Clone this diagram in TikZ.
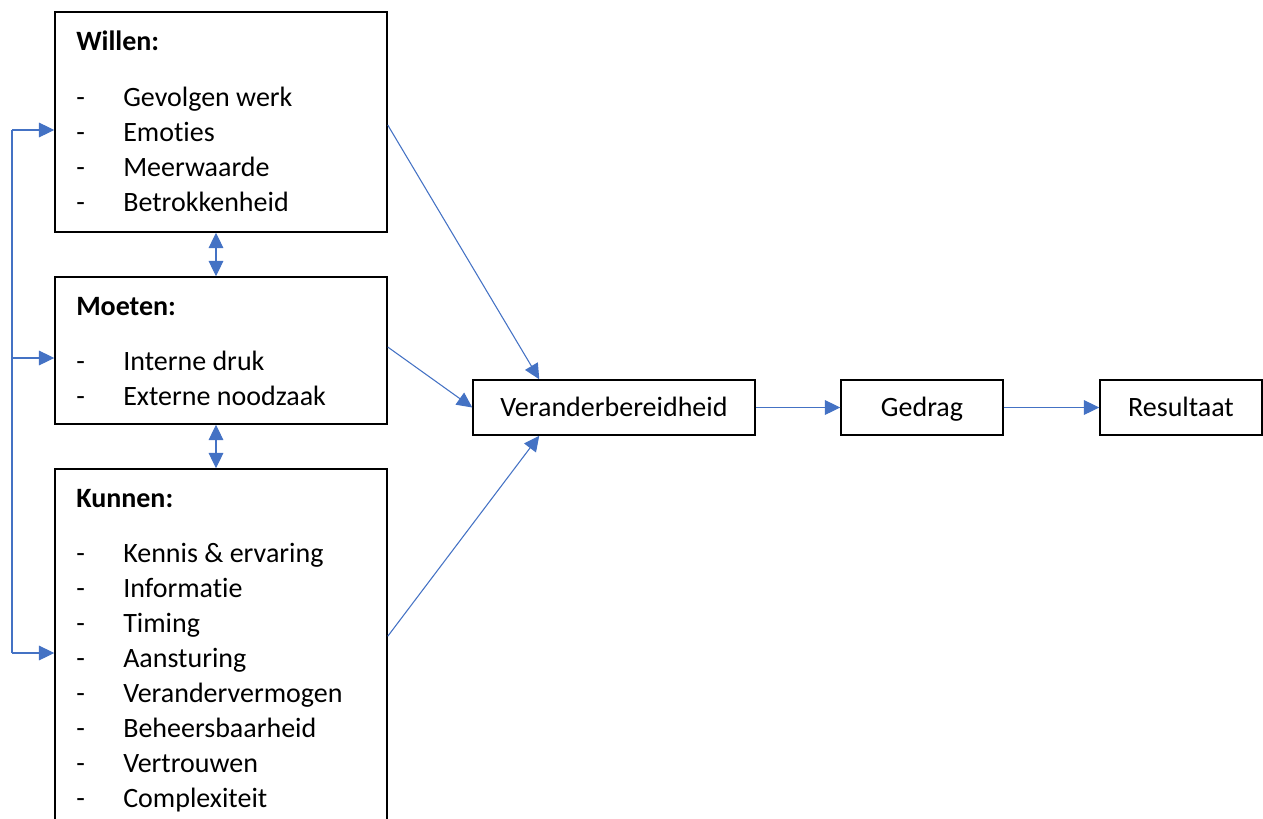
\documentclass[tikz,border=0pt]{standalone}
\usepackage{fontspec}
\setmainfont{Carlito}[Ligatures=NoCommon]
\usetikzlibrary{arrows.meta,calc}
\definecolor{linkblue}{RGB}{68,114,196}
\tikzset{
  box/.style={draw, line width=1.1pt, inner sep=0pt, fill=white, text height=17pt, text depth=2.8pt},
  flow/.style={draw=linkblue, line width=0.8pt, -{Triangle[length=11.5pt,width=11pt]}, color=linkblue},
  bothways/.style={draw=linkblue, line width=0.8pt, {Triangle[length=11.5pt,width=11pt]}-{Triangle[length=11.5pt,width=11pt]}, color=linkblue},
  item/.style={anchor=base west, inner sep=0pt},
  head/.style={item, font=\fontsize{21}{26}\selectfont\bfseries},
}
\begin{document}
\begin{tikzpicture}[x=0.75pt,y=0.75pt,yscale=-1,xscale=1, font=\fontsize{21}{26}\selectfont]
  \useasboundingbox (0,0) rectangle (1263,818);
  \clip (0,0) rectangle (1263,818);

  % boxes
  \node[box, minimum width=249pt, minimum height=165pt] (willen) at (221,122) {};
  \node[box, minimum width=249pt, minimum height=110.25pt] (moeten) at (221,350.5) {};
  \node[box, minimum width=249pt, minimum height=278.25pt] (kunnen) at (221,654.5) {};
  \node[box, minimum width=211.5pt, minimum height=41.25pt] (verander) at (614,407.5) {Veranderbereidheid};
  \node[box, minimum width=121.5pt, minimum height=41.25pt] (gedrag) at (922,407.5) {Gedrag};
  \node[box, minimum width=121.5pt, minimum height=41.25pt] (resultaat) at (1181,407.5) {Resultaat};

  % lists
  \node[head] (willenT) at (76,50) {Willen:};
  \foreach \t [count=\i] in {Gevolgen werk, Emoties, Meerwaarde, Betrokkenheid} {
    \node[item] (wd\i) at (76,{71+35*\i}) {-};
    \node[item] (w\i) at (123,{71+35*\i}) {\t};
  }
  \node[head] (moetenT) at (76,315) {Moeten:};
  \foreach \t [count=\i] in {Interne druk, Externe noodzaak} {
    \node[item] (md\i) at (76,{335+35*\i}) {-};
    \node[item] (m\i) at (123,{335+35*\i}) {\t};
  }
  \node[head] (kunnenT) at (76,507) {Kunnen:};
  \foreach \t [count=\i] in {Kennis \& ervaring, Informatie, Timing, Aansturing, Verandervermogen, Beheersbaarheid, Vertrouwen, Complexiteit} {
    \node[item] (kd\i) at (76,{527+35*\i}) {-};
    \node[item] (k\i) at (123,{527+35*\i}) {\t};
  }

  % feedback line on the left
  \coordinate (bw) at (12,130);
  \coordinate (bm) at (12,358);
  \coordinate (bk) at (12,653);
  \draw[linkblue, line width=0.8pt] (bw) -- (bk);
  \draw[flow] (bw) -- (bw -| willen.west);
  \draw[flow] (bm) -- (bm -| moeten.west);
  \draw[flow] (bk) -- (bk -| kunnen.west);

  % between the boxes
  \draw[bothways] ($(willen.south)+(-5,0)$) -- ($(moeten.north)+(-5,0)$);
  \draw[bothways] ($(moeten.south)+(-5,0)$) -- ($(kunnen.north)+(-5,0)$);

  % into Veranderbereidheid
  \draw[flow] ($(willen.east)+(0,3)$) -- ($(verander.north west)+(67,0)$);
  \draw[flow] ($(moeten.east)+(0,-3.5)$) -- (verander.west);
  \draw[flow] ($(kunnen.north east)+(0,168)$) -- ($(verander.south west)+(67,0)$);

  \draw[flow] (verander) -- (gedrag);
  \draw[flow] (gedrag) -- (resultaat);
\end{tikzpicture}
\end{document}
